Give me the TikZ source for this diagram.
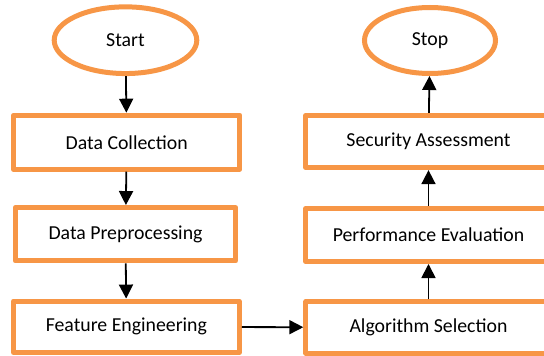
\documentclass[tikz,border=0pt]{standalone}
\usepackage{fontspec}
\setmainfont{Carlito}
\usetikzlibrary{shapes.geometric,arrows.meta}
\definecolor{boxorange}{HTML}{F79646}
\tikzset{
  flowbox/.style={draw=boxorange, line width=5pt, line join=round, fill=white,
    rectangle, inner sep=0pt, font=\fontsize{19.8}{24}\selectfont},
  terminal/.style={draw=boxorange, line width=5pt, fill=white, ellipse,
    inner sep=0pt, font=\fontsize{19.8}{24}\selectfont},
  flowarrow/.style={draw=black, line width=1.8pt,
    -{Triangle[width=14pt,length=14pt]}}
}
\begin{document}
\begin{tikzpicture}[x=1pt,y=-1pt]
  \path[use as bounding box] (0,0) rectangle (544,356);
  \clip (0,0) rectangle (544,356);

  % left column
  \node[terminal, minimum width=142.6pt, minimum height=66.7pt] (start) at (125.5,40.2) {Start};
  \node[flowbox, minimum width=226.3pt, minimum height=54pt] (dc) at (126.7,142.2) {Data Collection};
  \node[flowbox, minimum width=220.6pt, minimum height=53.3pt] (dp) at (125.5,234.2) {Data Preprocessing};
  \node[flowbox, minimum width=225.7pt, minimum height=51.5pt] (fe) at (126.4,326.8) {Feature Engineering};

  % right column
  \node[terminal, minimum width=131pt, minimum height=66pt] (stop) at (430,40.5) {Stop};
  \node[flowbox, minimum width=245.4pt, minimum height=52.3pt] (sa) at (428.5,141.5) {Security Assessment};
  \node[flowbox, minimum width=245.4pt, minimum height=53pt] (pe) at (428.5,235) {Performance Evaluation};
  \node[flowbox, minimum width=245.4pt, minimum height=51.5pt] (as) at (428.5,327.5) {Algorithm Selection};

  % connectors
  \draw[flowarrow] (start) -- (dc);
  \draw[flowarrow] (dc) -- (dp);
  \draw[flowarrow] (dp) -- (fe);
  \draw[flowarrow] (fe) -- (as);
  \draw[flowarrow] (as) -- (pe);
  \draw[flowarrow] (pe) -- (sa);
  \draw[flowarrow] (sa) -- (stop);
\end{tikzpicture}
\end{document}
